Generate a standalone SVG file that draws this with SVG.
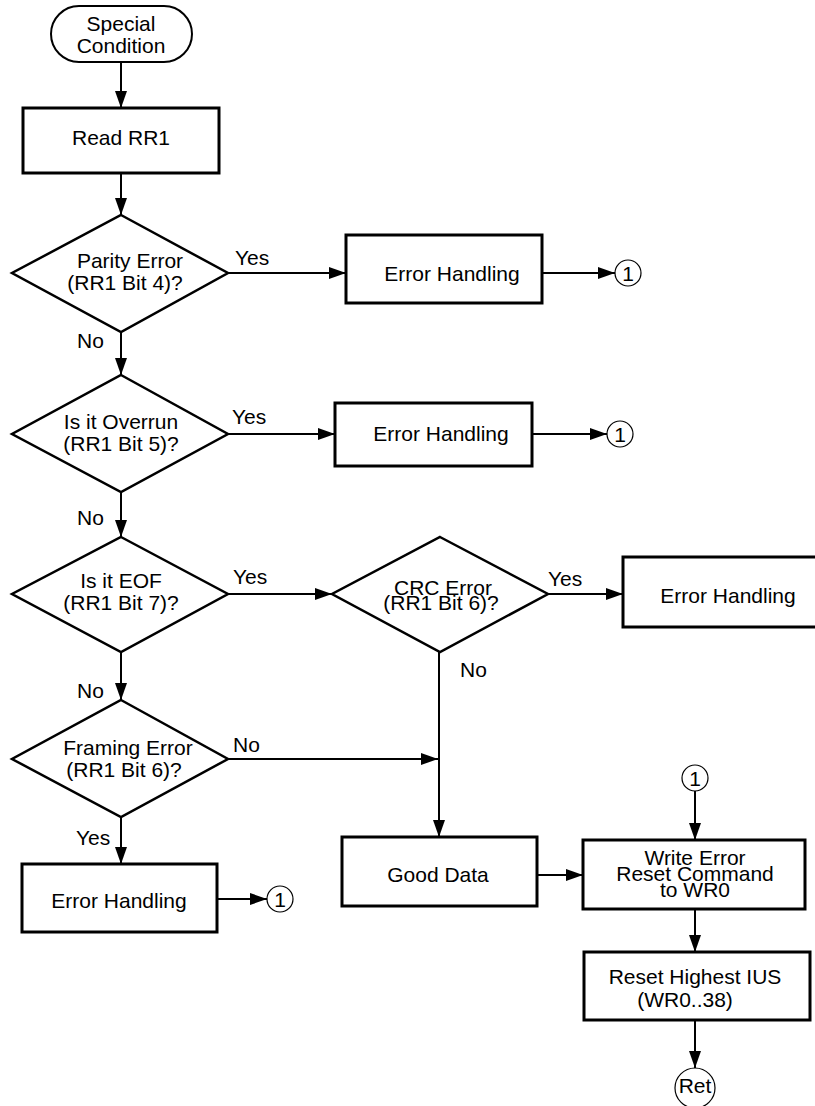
<svg xmlns="http://www.w3.org/2000/svg" width="815" height="1106" viewBox="0 0 815 1106">
<defs>
<marker id="arr" markerUnits="userSpaceOnUse" viewBox="0 0 17 12" refX="17" refY="6" markerWidth="17" markerHeight="12" orient="auto">
<path d="M0,0 L17,6 L0,12 z" fill="#000"/>
</marker>
<style>
text{font-family:"Liberation Sans",Arial,sans-serif;font-size:21px;fill:#000;text-anchor:middle}
.box{fill:#fff;stroke:#000;stroke-width:3}
.dia{fill:#fff;stroke:#000;stroke-width:2.5}
.term{fill:#fff;stroke:#000;stroke-width:2}
.con{fill:#fff;stroke:#000;stroke-width:1.2}
.ln{fill:none;stroke:#000;stroke-width:2}
.lbl{text-anchor:start}
</style>
</defs>
<rect width="815" height="1106" fill="#fff"/>
<g id="connectors">
<line class="ln" x1="121" y1="62" x2="121" y2="108" marker-end="url(#arr)"/>
<line class="ln" x1="121" y1="173" x2="121" y2="215" marker-end="url(#arr)"/>
<line class="ln" x1="228" y1="273" x2="346" y2="273" marker-end="url(#arr)"/>
<line class="ln" x1="542" y1="273" x2="615" y2="273" marker-end="url(#arr)"/>
<line class="ln" x1="121" y1="332" x2="121" y2="375" marker-end="url(#arr)"/>
<line class="ln" x1="228" y1="434" x2="335" y2="434" marker-end="url(#arr)"/>
<line class="ln" x1="532" y1="434" x2="607" y2="434" marker-end="url(#arr)"/>
<line class="ln" x1="121" y1="492" x2="121" y2="537" marker-end="url(#arr)"/>
<line class="ln" x1="228" y1="594" x2="332" y2="594" marker-end="url(#arr)"/>
<line class="ln" x1="548" y1="594" x2="623" y2="594" marker-end="url(#arr)"/>
<line class="ln" x1="121" y1="652" x2="121" y2="700" marker-end="url(#arr)"/>
<line class="ln" x1="228" y1="759" x2="438" y2="759" marker-end="url(#arr)"/>
<line class="ln" x1="439" y1="652" x2="439" y2="837" marker-end="url(#arr)"/>
<line class="ln" x1="121" y1="817" x2="121" y2="864" marker-end="url(#arr)"/>
<line class="ln" x1="217" y1="899" x2="267" y2="899" marker-end="url(#arr)"/>
<line class="ln" x1="537" y1="875" x2="583" y2="875" marker-end="url(#arr)"/>
<line class="ln" x1="695" y1="791" x2="695" y2="840" marker-end="url(#arr)"/>
<line class="ln" x1="695" y1="909" x2="695" y2="952" marker-end="url(#arr)"/>
<line class="ln" x1="695" y1="1020" x2="695" y2="1068" marker-end="url(#arr)"/>
<text class="lbl" x="235" y="265">Yes</text>
<text class="lbl" x="77" y="348">No</text>
<text class="lbl" x="232" y="424">Yes</text>
<text class="lbl" x="77" y="525">No</text>
<text class="lbl" x="233" y="584">Yes</text>
<text class="lbl" x="548" y="586">Yes</text>
<text class="lbl" x="460" y="677">No</text>
<text class="lbl" x="77" y="698">No</text>
<text class="lbl" x="233" y="752">No</text>
<text class="lbl" x="76" y="845">Yes</text>
</g>
<g id="start">
<rect class="term" x="51" y="6" width="141" height="56" rx="28"/>
<text x="121" y="31">Special</text>
<text x="121" y="53">Condition</text>
</g>
<g id="read-rr1">
<rect class="box" x="23" y="108" width="196" height="65"/>
<text x="121" y="145">Read RR1</text>
</g>
<g id="parity">
<polygon class="dia" points="121,215 228,273 121,332 12,273"/>
<text x="130" y="268">Parity Error</text>
<text x="125" y="290">(RR1 Bit 4)?</text>
</g>
<g id="err1">
<rect class="box" x="346" y="235" width="196" height="68"/>
<text x="452" y="281">Error Handling</text>
</g>
<g id="c1a">
<circle class="con" cx="628" cy="273" r="13"/>
<text x="628" y="281">1</text>
</g>
<g id="overrun">
<polygon class="dia" points="121,375 228,434 121,492 12,434"/>
<text x="121" y="429">Is it Overrun</text>
<text x="121" y="451">(RR1 Bit 5)?</text>
</g>
<g id="err2">
<rect class="box" x="335" y="403" width="197" height="63"/>
<text x="441" y="441">Error Handling</text>
</g>
<g id="c1b">
<circle class="con" cx="620" cy="434" r="13"/>
<text x="620" y="442">1</text>
</g>
<g id="eof">
<polygon class="dia" points="121,537 228,594 121,652 12,594"/>
<text x="121" y="588">Is it EOF</text>
<text x="121" y="610">(RR1 Bit 7)?</text>
</g>
<g id="crc">
<polygon class="dia" points="440,537 548,594 440,652 332,594"/>
<text x="443" y="595">CRC Error</text>
<text x="441" y="610">(RR1 Bit 6)?</text>
</g>
<g id="err3">
<rect class="box" x="623" y="557" width="200" height="70"/>
<text x="728" y="603">Error Handling</text>
</g>
<g id="framing">
<polygon class="dia" points="121,700 228,759 121,817 12,759"/>
<text x="128" y="755">Framing Error</text>
<text x="124" y="777">(RR1 Bit 6)?</text>
</g>
<g id="err4">
<rect class="box" x="22" y="864" width="195" height="68"/>
<text x="119" y="908">Error Handling</text>
</g>
<g id="c1c">
<circle class="con" cx="280" cy="899" r="13"/>
<text x="280" y="907">1</text>
</g>
<g id="good-data">
<rect class="box" x="342" y="837" width="195" height="69"/>
<text x="438" y="882">Good Data</text>
</g>
<g id="c1d">
<circle class="con" cx="695" cy="778" r="13"/>
<text x="695" y="786">1</text>
</g>
<g id="write-error">
<rect class="box" x="583" y="840" width="222" height="69"/>
<text x="695" y="865">Write Error</text>
<text x="695" y="881">Reset Command</text>
<text x="695" y="897">to WR0</text>
</g>
<g id="reset-ius">
<rect class="box" x="584" y="952" width="226" height="68"/>
<text x="695" y="984">Reset Highest IUS</text>
<text x="685" y="1007">(WR0..38)</text>
</g>
<g id="ret">
<circle class="con" cx="695" cy="1088" r="20"/>
<text x="695" y="1093">Ret</text>
</g>
</svg>
